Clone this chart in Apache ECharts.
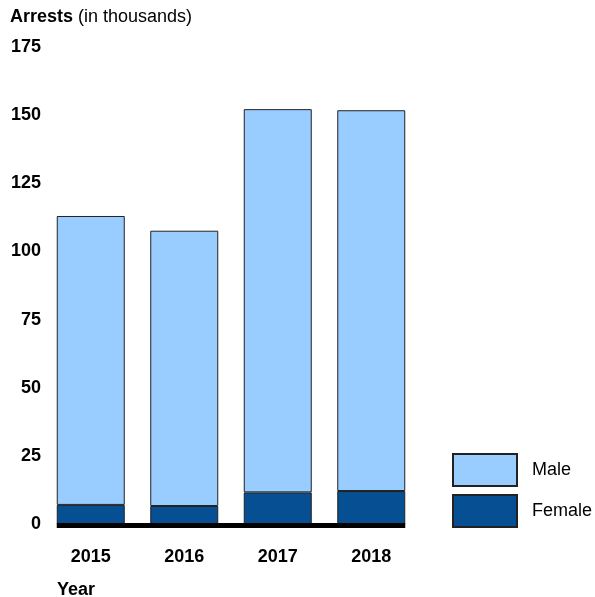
<!DOCTYPE html>
<html>
<head>
<meta charset="utf-8">
<script src="https://cdn.jsdelivr.net/npm/echarts@6/dist/echarts.min.js"></script>
<style>
    html, body { margin: 0; padding: 0; background: #fff; }
    #arrests_chart { width: 595px; height: 597px; }
</style>
</head>
<body>
<div id="arrests_chart"></div>
<script>
// Chart data
var years = ['2015', '2016', '2017', '2018'];
var femaleArrests = [7.0, 6.6, 11.6, 12.1];
var maleArrests = [106.0, 101.0, 140.6, 139.7];
var yTicks = { min: 0, max: 175, interval: 25 };

var fontFamily = 'Liberation Sans, Arial, sans-serif';
var fontSize = 18;
var barWidth = 68;

var chartElement = document.getElementById('arrests_chart');
var arrestsChart = echarts.init(chartElement);

arrestsChart.setOption({
    animation: false,
    textStyle: { fontFamily: fontFamily, fontSize: fontSize, color: '#000' },

    // Titles
    title: [
        {
            text: '{b|Arrests} (in thousands)',
            left: 5,
            top: 3,
            textStyle: {
                fontFamily: fontFamily,
                fontSize: fontSize,
                fontWeight: 'normal',
                color: '#000',
                rich: { b: { fontFamily: fontFamily, fontSize: fontSize, fontWeight: 'bold', color: '#000' } }
            }
        },
        {
            text: 'Year',
            left: 52,
            top: 576,
            textStyle: { fontFamily: fontFamily, fontSize: fontSize, fontWeight: 'bold', color: '#000' }
        }
    ],

    // Legend
    legend: {
        orient: 'vertical',
        left: 447,
        top: 448,
        icon: 'rect',
        itemWidth: 64,
        itemHeight: 32,
        itemGap: 7,
        data: ['Male', 'Female'],
        textStyle: { fontFamily: fontFamily, fontSize: fontSize, color: '#000', padding: [0, 0, 0, 10] }
    },

    grid: {
        left: 44,
        right: 177,
        top: 47,
        bottom: 73
    },

    xAxis: {
        type: 'category',
        data: years,
        axisLine: { show: false },
        axisTick: { show: false },
        axisLabel: {
            fontFamily: fontFamily,
            fontSize: fontSize,
            fontWeight: 'bold',
            color: '#000',
            margin: 24
        }
    },

    yAxis: {
        type: 'value',
        min: yTicks.min,
        max: yTicks.max,
        interval: yTicks.interval,
        axisLine: { show: false },
        axisTick: { show: false },
        splitLine: { show: false },
        axisLabel: {
            fontFamily: fontFamily,
            fontSize: fontSize,
            fontWeight: 'bold',
            color: '#000',
            margin: 3
        }
    },

    series: [
        {
            name: 'Female',
            type: 'bar',
            stack: 'total',
            barWidth: barWidth,
            itemStyle: { color: '#064f92', borderColor: '#222', borderWidth: 1 },
            data: femaleArrests
        },
        {
            name: 'Male',
            type: 'bar',
            stack: 'total',
            barWidth: barWidth,
            itemStyle: { color: '#99ccff', borderColor: '#222', borderWidth: 1 },
            data: maleArrests
        }
    ]
});

// Thick baseline spanning from first to last bar
var firstX = arrestsChart.convertToPixel({ xAxisIndex: 0 }, years[0]) - barWidth / 2;
var lastX = arrestsChart.convertToPixel({ xAxisIndex: 0 }, years[years.length - 1]) + barWidth / 2;
var zeroY = arrestsChart.convertToPixel({ yAxisIndex: 0 }, 0);

arrestsChart.setOption({
    graphic: [{
        type: 'line',
        z: 100,
        shape: { x1: firstX, y1: zeroY + 1.5, x2: lastX, y2: zeroY + 1.5 },
        style: { stroke: '#000', lineWidth: 5 }
    }]
});
</script>
</body>
</html>
